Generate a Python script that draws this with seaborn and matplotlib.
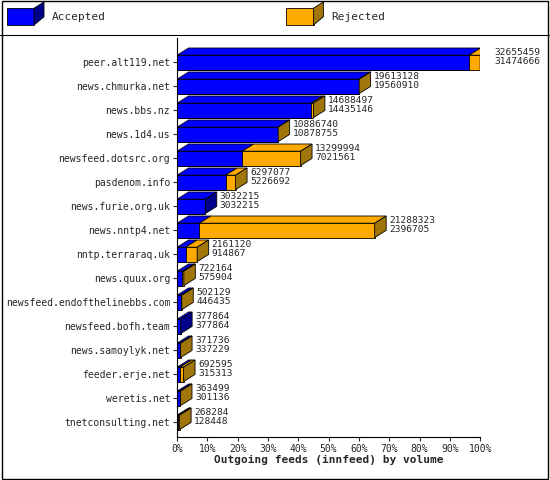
import numpy as np
import matplotlib.pyplot as plt
import seaborn as sns
from matplotlib.patches import Polygon, Rectangle

hosts = ["peer.alt119.net", "news.chmurka.net", "news.bbs.nz", "news.1d4.us",
         "newsfeed.dotsrc.org", "pasdenom.info", "news.furie.org.uk", "news.nntp4.net",
         "nntp.terraraq.uk", "news.quux.org", "newsfeed.endofthelinebbs.com",
         "newsfeed.bofh.team", "news.samoylyk.net", "feeder.erje.net", "weretis.net",
         "tnetconsulting.net"]
offered = [32655459, 19613128, 14688497, 10886740, 13299994, 6297077, 3032215, 21288323,
           2161120, 722164, 502129, 377864, 371736, 692595, 363499, 268284]
accepted = [31474666, 19560910, 14435146, 10878755, 7021561, 5226692, 3032215, 2396705,
            914867, 575904, 446435, 377864, 337229, 315313, 301136, 128448]

vmax = max(offered)
tot_pct = np.array(offered) / vmax * 100
acc_pct = np.array(accepted) / vmax * 100

blue, blue_d = "#0000ff", "#00008b"
orange, orange_d = "#ffaa00", "#a0760a"

sns.set_style("white")
plt.rcParams["font.family"] = ["DejaVu Sans Mono"]

fig = plt.figure(figsize=(5.5, 4.8), dpi=100)
ax = fig.add_axes([0.322, 0.09, 0.551, 0.83])

bh = 0.6
sns.barplot(x=tot_pct, y=hosts, color=orange, orient="h", width=bh, ax=ax,
            edgecolor="black", linewidth=0.6, saturation=1)
sns.barplot(x=acc_pct, y=hosts, color=blue, orient="h", width=bh, ax=ax,
            edgecolor="black", linewidth=0.6, saturation=1)

dx, dy = 3.8, 0.3
for i, (t, a) in enumerate(zip(tot_pct, acc_pct)):
    top = i - bh / 2
    for x0, x1, c in [(0, a, blue), (a, t, orange)]:
        if x1 > x0:
            ax.add_patch(Polygon([(x0, top), (x0 + dx, top - dy), (x1 + dx, top - dy), (x1, top)],
                                 closed=True, fc=c, ec="black", lw=0.6, zorder=3))
    sc = orange_d if t > a else blue_d
    ax.add_patch(Polygon([(t, top), (t + dx, top - dy), (t + dx, top - dy + bh), (t, top + bh)],
                         closed=True, fc=sc, ec="black", lw=0.6, zorder=3))
    ax.text(t + dx + 1.0, i - 0.22, f"{offered[i]}\n{accepted[i]}", fontsize=6.8,
            va="center", ha="left", linespacing=0.95, zorder=4, clip_on=False)

ax.set_xlim(0, 100)
ax.set_ylim(len(hosts) - 0.4, -1.0)
ax.set_xticks(range(0, 101, 10))
ax.set_xticklabels([f"{v}%" for v in range(0, 101, 10)], fontsize=7)
ax.tick_params(axis="y", labelsize=7, length=3, left=True, pad=2)
ax.tick_params(axis="x", length=3, bottom=True, pad=2)
ax.set_xlabel("Outgoing feeds (innfeed) by volume", fontsize=8, fontweight="bold", labelpad=1)
ax.set_ylabel("")
sns.despine(ax=ax, top=True, right=True)
for s in ("left", "bottom"):
    ax.spines[s].set_linewidth(0.8)
    ax.spines[s].set_color("black")

fig.add_artist(Rectangle((0.003, 0.003), 0.994, 0.994, transform=fig.transFigure,
                         fill=False, ec="black", lw=1))
fig.add_artist(plt.Line2D([0, 1], [0.928, 0.928], transform=fig.transFigure, color="black", lw=0.8))
for x0, c, cd, lab in [(0.012, blue, blue_d, "Accepted"), (0.52, orange, orange_d, "Rejected")]:
    fig.add_artist(Rectangle((x0, 0.948), 0.05, 0.035, transform=fig.transFigure,
                             fc=c, ec="black", lw=0.6))
    fig.add_artist(Polygon([(x0 + 0.05, 0.948), (x0 + 0.068, 0.965), (x0 + 0.068, 1 - 0.004),
                            (x0 + 0.05, 0.983)], closed=True, transform=fig.transFigure,
                           fc=cd, ec="black", lw=0.6))
    fig.text(x0 + 0.082, 0.958, lab, fontsize=8)

fig.savefig("out.png", dpi=100)
